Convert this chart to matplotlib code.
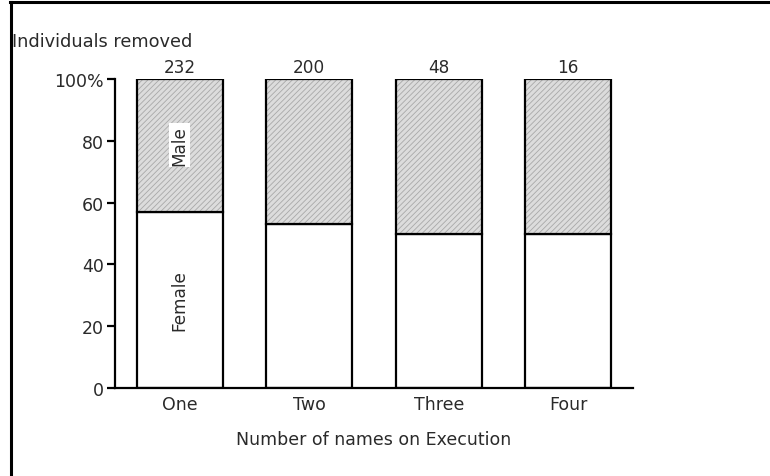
import matplotlib
matplotlib.use("Agg")
import matplotlib.pyplot as plt
from matplotlib.lines import Line2D

categories = ["One", "Two", "Three", "Four"]
female_pct = [57, 53, 50, 50]
male_pct = [43, 47, 50, 50]
totals = [232, 200, 48, 16]
yticks = [0, 20, 40, 60, 80, 100]
ytick_labels = ["0", "20", "40", "60", "80", "100%"]

plt.rcParams['font.family'] = ['DejaVu Sans']
plt.rcParams['hatch.linewidth'] = 0.6
fig = plt.figure(figsize=(7.7, 4.77), dpi=100)
ax = fig.add_axes([115/770, 1-389/477, (633-115)/770, (389-80)/477])

TXT = "#2a2a2a"
FS = 12.5
x = list(range(len(categories)))
w = 0.665
ax.bar(x, female_pct, width=w, color="white", edgecolor="black", linewidth=1.6, zorder=2)
ax.bar(x, male_pct, bottom=female_pct, width=w, color="#dcdcdc", edgecolor="#a8a8a8",
       hatch="//////", linewidth=0, zorder=2)
ax.bar(x, male_pct, bottom=female_pct, width=w, color="none", edgecolor="black",
       linewidth=1.6, zorder=3)

for xi, t in zip(x, totals):
    ax.text(xi, 102.3, str(t), ha="center", va="baseline", fontsize=12.2, color=TXT)

ax.text(0, 28.5, "Female", rotation=90, ha="center", va="center",
        fontsize=12.2, color=TXT, zorder=4)
ax.text(0, 78.6, "Male", rotation=90, ha="center", va="center",
        fontsize=12.2, color=TXT, zorder=4,
        bbox=dict(boxstyle="square,pad=0.1", facecolor="white", edgecolor="none"))

ax.set_xlim(-0.5, 3.5)
ax.set_ylim(0, 100)
ax.set_yticks(yticks)
ax.set_yticklabels(ytick_labels)
ax.set_xticks(x)
ax.set_xticklabels(categories)
ax.tick_params(axis="y", length=6, width=1.6, labelsize=FS, labelcolor=TXT, pad=2)
ax.tick_params(axis="x", length=0, labelsize=FS, labelcolor=TXT, pad=5)
for s in ["top", "right"]:
    ax.spines[s].set_visible(False)
for s in ["left", "bottom"]:
    ax.spines[s].set_linewidth(1.6)

fig.text(374/770, 1-440/477, "Number of names on Execution", ha="center", va="center",
         fontsize=FS, color=TXT)
fig.text(12/770, 1-42/477, "Individuals removed", ha="left", va="center",
         fontsize=12.8, color=TXT)

fig.add_artist(Line2D([10/770, 1.0], [1-2.5/477, 1-2.5/477], color="black", linewidth=2.2,
                      transform=fig.transFigure))
fig.add_artist(Line2D([11/770, 11/770], [0, 1-2.5/477], color="black", linewidth=2.2,
                      transform=fig.transFigure))

fig.savefig("out.png", dpi=100)
